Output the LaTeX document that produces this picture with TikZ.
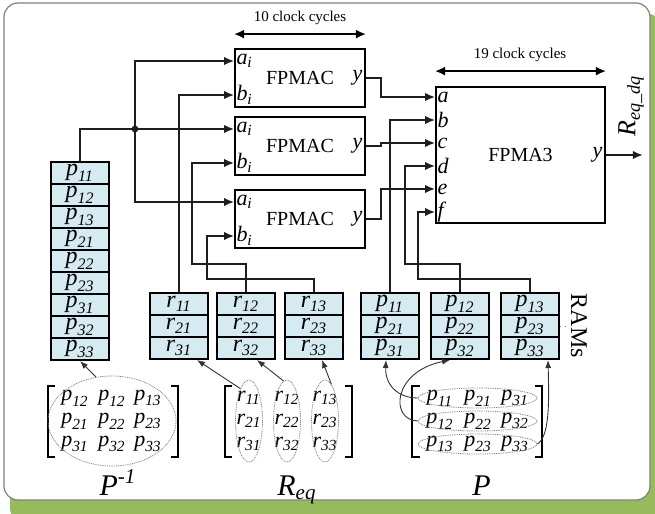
\documentclass[tikz,border=0pt]{standalone}
\usepackage{amsmath}
\usepackage{fontspec}
\setmainfont{Liberation Serif}
\usetikzlibrary{arrows.meta,calc,shapes.geometric}

\definecolor{ramblue}{RGB}{213,234,241}
\definecolor{framegreen}{RGB}{150,186,92}
\definecolor{wirecol}{RGB}{30,30,30}

% italic symbol with italic subscript
\newcommand\ix[2]{$\textit{#1}_{\textit{#2}}$}

\tikzset{
  wire/.style={line width=0.85pt, draw=wirecol},
  sig/.style={wire, -{Latex[length=5pt,width=4.2pt]}},
  cyc/.style={line width=0.85pt, {Latex[length=5pt,width=4.5pt]}-{Latex[length=5pt,width=4.5pt]}},
  macbox/.style={draw, line width=0.9pt, minimum width=65pt, minimum height=29pt, inner sep=0pt, font=\fontsize{10}{12}\selectfont},
  cell/.style={draw, line width=1pt, fill=ramblue, minimum width=29pt, minimum height=11pt, inner sep=0pt, font=\fontsize{12}{12}\selectfont},
  pin/.style={anchor=west, inner sep=1pt, font=\fontsize{11}{12}\selectfont},
  outlab/.style={anchor=east, inner sep=1.5pt, font=\fontsize{11}{12}\selectfont},
  ent/.style={inner sep=0pt, font=\fontsize{11}{12}\selectfont},
  grp/.style={ellipse, draw=black!50, dash pattern=on 0.45pt off 0.45pt, line width=0.4pt, inner sep=0pt},
  feed/.style={draw=black!80, line width=0.45pt, -{Latex[length=4pt,width=3pt]}},
  brk/.style={line width=1pt},
  cyclab/.style={font=\fontsize{7.5}{9}\selectfont},
  biglab/.style={font=\fontsize{15}{17}\selectfont, inner sep=0pt},
}

\begin{document}
\begin{tikzpicture}[x=0.5pt, y=-0.5pt, font=\fontsize{10}{12}\selectfont]
\useasboundingbox (0,0) rectangle (655,514);

% frame with green shadow
\fill[framegreen, rounded corners=7pt] (10,14) rectangle (662,522);
\draw[gray, line width=0.6pt, fill=white, rounded corners=7pt] (4,3) rectangle (650,500);

% FPMAC units
\node[macbox] (m1) at (300,78)  {FPMAC};
\node[macbox] (m2) at (300,146) {FPMAC};
\node[macbox] (m3) at (300,219) {FPMAC};
\foreach \i in {1,2,3} {
  \coordinate (m\i a) at ($(m\i.west)+(0,-17)$);
  \coordinate (m\i b) at ($(m\i.west)+(0,17)$);
  \node[pin] (m\i la) at (m\i a) {\ix{a}{i}};
  \node[pin] (m\i lb) at (m\i b) {\ix{b}{i}};
  \node[outlab] (m\i ly) at (m\i.east) {\textit{y}};
}
\draw[cyc] ($(m1.north west)+(0,-14)$) -- ($(m1.north east)+(0,-14)$);
\node[cyclab] (c10) at (300,18) {10 clock cycles};

% FPMA3 unit
\node[draw, line width=0.9pt, minimum width=84.5pt, minimum height=68pt, inner sep=0pt] (g) at (520.5,155) {FPMA3};
\foreach \l/\dy in {a/-58,b/-35,c/-12,d/11,e/34,f/57} {
  \coordinate (g\l) at ($(g.west)+(0,\dy)$);
  \node[pin] (gl\l) at (g\l) {\textit{\l}};
}
\node[outlab] (gly) at (g.east) {\textit{y}};
\draw[cyc] ($(g.north west)+(0,-15)$) -- ($(g.north east)+(0,-15)$);
\node[cyclab] (c19) at (520,55) {19 clock cycles};
\draw[sig] (g.east) -- ++(37,0) coordinate (gout);
\node[rotate=90, font=\fontsize{13}{15}\selectfont, inner sep=0pt] (rout) at (631,106) {$\textit{R}_{\textit{eq\_dq}}$};

% RAM for P^-1
\foreach \lab [count=\k from 0] in {11,12,13,21,22,23,31,32,33}
  \node[cell] (pc\lab) at (80,173+22*\k) {\ix{p}{\lab}};

% RAMs for R_eq
\foreach \c/\x in {1/179,2/246,3/314}
  \foreach \r/\y in {1/304,2/326,3/348}
    \node[cell] (r\r\c) at (\x,\y) {\ix{r}{\r\c}};

% RAMs for P
\foreach \c/\x in {1/390,2/460,3/530}
  \foreach \r/\y in {1/304,2/326,3/348}
    \node[cell] (pr\r\c) at (\x,\y) {\ix{p}{\r\c}};

\node[rotate=-90, font=\fontsize{12}{14}\selectfont, inner sep=1pt] (ramlab) at (579,326) {RAMs};
\draw[gray, dotted, line width=0.5pt] (pr23.east) -- (ramlab.south);

% P^-1 column feeds every a_i input
\coordinate (J) at (135,129);
\draw[wire] (pc11.north) |- (J);
\draw[sig] (J) |- (m1a);
\draw[sig] (J) -- (m2a);
\draw[sig] (J) |- (m3a);
\fill[wirecol] (J) circle (1.7pt);

% R_eq columns feed the b_i inputs
\draw[sig] (r11.north) |- (m1b);
\draw[sig] (r12.north) |- ++(-54,-28) |- (m2b);
\draw[sig] (r13.north) |- ++(-107,-13) |- (m3b);

% FPMAC outputs into FPMA3
\draw[sig] (m1.east) -- ++(15,0) |- (ga);
\draw[sig] (m2.east) -- ++(15,0) |- (gc);
\draw[sig] (m3.east) -- ++(15,0) |- (ge);

% P columns into FPMA3
\draw[sig] (pr11.north) |- (gb);
\draw[sig] (pr12.north) |- ++(-55,-28) |- (gd);
\draw[sig] (pr13.north) |- ++(-112,-13) |- (gf);

% matrix P^-1
\foreach \lab/\x/\y [count=\n] in {12/75/398,12/112/398,13/148/398,21/75/421,22/112/421,23/148/421,31/75/444,32/112/444,33/148/444}
  \node[ent] (a\n) at (\x,\y) {\ix{p}{\lab}};
\draw[brk] (55,386) -- (48,386) -- (48,457) -- (55,457);
\draw[brk] (171,386) -- (178,386) -- (178,457) -- (171,457);
\node[grp, minimum width=64pt, minimum height=45pt] (ePinv) at (112,421) {};
\draw[feed] (ePinv.110) -- (pc33.south);
\node[biglab, anchor=base] (lPinv) at (118,495) {$\textit{P}^{\textit{-1}}$};

% matrix R_eq
\foreach \c/\x in {1/249,2/287,3/325} {
  \foreach \r/\y in {1/398,2/421,3/444}
    \node[ent] (b\r\c) at (\x,\y) {\ix{r}{\r\c}};
  \node[grp, minimum width=13.5pt, minimum height=41pt] (rE\c) at (\x,421) {};
}
\draw[brk] (232,386) -- (225,386) -- (225,457) -- (232,457);
\draw[brk] (345,386) -- (352,386) -- (352,457) -- (345,457);
\draw[feed] (rE1.105) -- ([xshift=9pt]r31.south);
\draw[feed] (rE2.95) -- ([xshift=5.5pt]r32.south);
\draw[feed] (rE3.80) -- ([xshift=4pt]r33.south);
\node[biglab, anchor=base west] (lReq) at (277,495) {$\textit{R}_{\textit{eq}}$};

% matrix P (rows are the RAM columns)
\foreach \r/\y in {1/398,2/421,3/444} {
  \foreach \c/\x in {1/440,2/478,3/515}
    \node[ent] (e\r\c) at (\x,\y) {\ix{p}{\c\r}};
  \node[grp, minimum width=59.5pt, minimum height=10pt] (pE\r) at (477.5,\y) {};
}
\draw[brk] (420,386) -- (412,386) -- (412,457) -- (420,457);
\draw[brk] (535,386) -- (542,386) -- (542,457) -- (535,457);
\draw[feed] (pE1.west) .. controls (398,398) and (385,385) .. ([xshift=-2pt]pr31.south);
\draw[feed] (pE2.west) .. controls (390,420) and (392,372) .. ([xshift=-5pt]pr32.south);
\draw[feed] (pE3.east) .. controls (550,436) and (549,400) .. ([xshift=9pt]pr33.south);
\node[biglab, anchor=base west] (lP) at (472,495) {\textit{P}};
\end{tikzpicture}
\end{document}
